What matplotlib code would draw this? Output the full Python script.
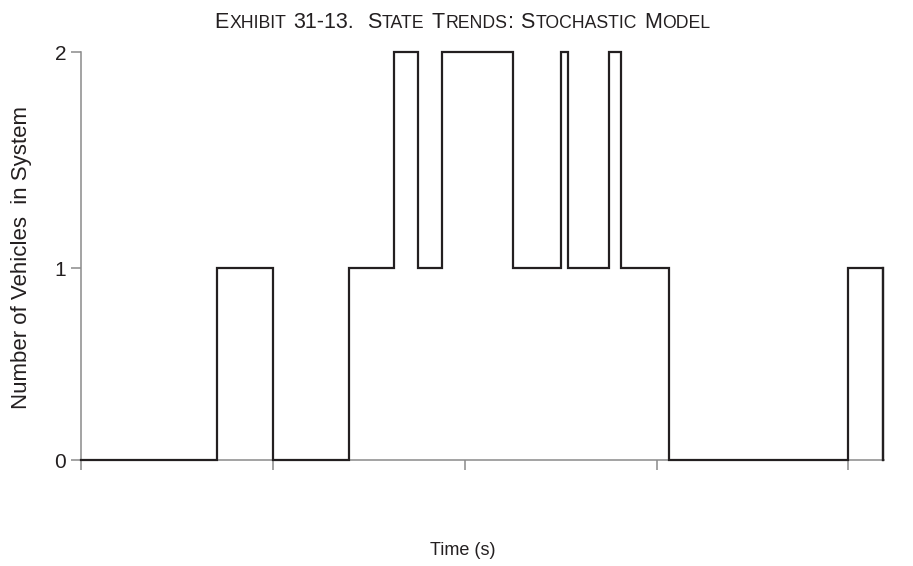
import matplotlib
matplotlib.use("Agg")
import matplotlib.pyplot as plt
import numpy as np

# state changes (time in s, vehicles in system after the change)
times = [0.0, 7.1, 10.0, 14.0, 16.3, 17.55, 18.8, 22.5, 25.0, 25.4, 27.55, 28.15, 30.65, 40.0, 41.8]
counts = [0, 1, 0, 1, 2, 1, 2, 1, 2, 1, 2, 1, 0, 1, 0]
x_ticks = [0, 10, 20, 30, 40]
y_ticks = [0, 1, 2]
y_ticklabels = ["0", "1", "2"]

title_text = "Exhibit 31-13.  State Trends: Stochastic Model"
ylabel_text = "Number of Vehicles  in System"
xlabel_text = "Time (s)"

FONT = ["Liberation Sans", "DejaVu Sans"]
GREY = "#8a8a8a"
INK = "#231f20"
TXT = "#231f20"

fig = plt.figure(figsize=(9.13, 5.66), dpi=100)
ax = fig.add_axes([80.6 / 913, 1 - 460 / 566, (884 - 80.6) / 913, (460 - 52) / 566])

# the printed axis is not evenly spaced: 0->1 is shorter than 1->2
seg_lo, seg_hi = 192.0, 216.0
def fwd(y):
    return np.interp(y, [-10, 0, 1, 2, 12], [-10 * seg_lo, 0, seg_lo, seg_lo + seg_hi, seg_lo + 11 * seg_hi])
def inv(v):
    return np.interp(v, [-10 * seg_lo, 0, seg_lo, seg_lo + seg_hi, seg_lo + 11 * seg_hi], [-10, 0, 1, 2, 12])
ax.set_yscale("function", functions=(fwd, inv))

ax.step(times, counts, where="post", color=INK, lw=1.6, clip_on=False, zorder=5,
        solid_joinstyle="miter")
ax.plot([times[-1], times[-1]], [counts[-2], 0], color=INK, lw=1.6, clip_on=False, zorder=5)

ax.set_xlim(0, 41.85)
ax.set_ylim(0, 2)
ax.set_xticks(x_ticks)
ax.set_xticklabels([])
ax.set_yticks(y_ticks)
ax.set_yticklabels(y_ticklabels, fontfamily=FONT, fontsize=15, color=TXT)
ax.yaxis.set_minor_locator(matplotlib.ticker.NullLocator())

for s in ["top", "right"]:
    ax.spines[s].set_visible(False)
for s in ["left", "bottom"]:
    ax.spines[s].set_color(GREY)
    ax.spines[s].set_linewidth(1.1)
ax.tick_params(axis="both", length=7.5, width=1.1, color=GREY, direction="out", pad=3)

fig.text(0.024, 0.545, ylabel_text, rotation=90, ha="center", va="center",
         fontfamily=FONT, fontsize=16, color=TXT)
fig.text(0.507, 0.028, xlabel_text, ha="center", va="center",
         fontfamily=FONT, fontsize=13, color=TXT)

# small-caps title, built word by word
def small_caps(x_center, y_base, text, big, small):
    renderer = fig.canvas.get_renderer()
    pieces = []
    for word in text.split(" "):
        runs = []
        for ch in word:
            sz = small if ch.islower() else big
            if runs and runs[-1][1] == sz:
                runs[-1][0] += ch.upper()
            else:
                runs.append([ch.upper(), sz])
        pieces.append(runs)
    probe1 = fig.text(0, 0, "x x", fontsize=big, fontfamily=FONT)
    probe2 = fig.text(0, 0, "xx", fontsize=big, fontfamily=FONT)
    space = probe1.get_window_extent(renderer).width - probe2.get_window_extent(renderer).width
    probe1.remove()
    probe2.remove()
    items = []
    cursor = 0.0
    for runs in pieces:
        if not runs:
            cursor += space
            continue
        for chunk, sz in runs:
            t = fig.text(0, y_base, chunk, fontsize=sz, fontfamily=FONT, color=TXT,
                         va="baseline", ha="left")
            w = t.get_window_extent(renderer).width
            items.append((t, cursor))
            cursor += w + 0.8
        cursor += space
    cursor -= space
    start = x_center * fig.bbox.width - cursor / 2
    for t, off in items:
        t.set_x((start + off) / fig.bbox.width)

small_caps(0.507, 1 - 28 / 566, title_text, 15.5, 12.7)

fig.savefig("out.png", dpi=100)
